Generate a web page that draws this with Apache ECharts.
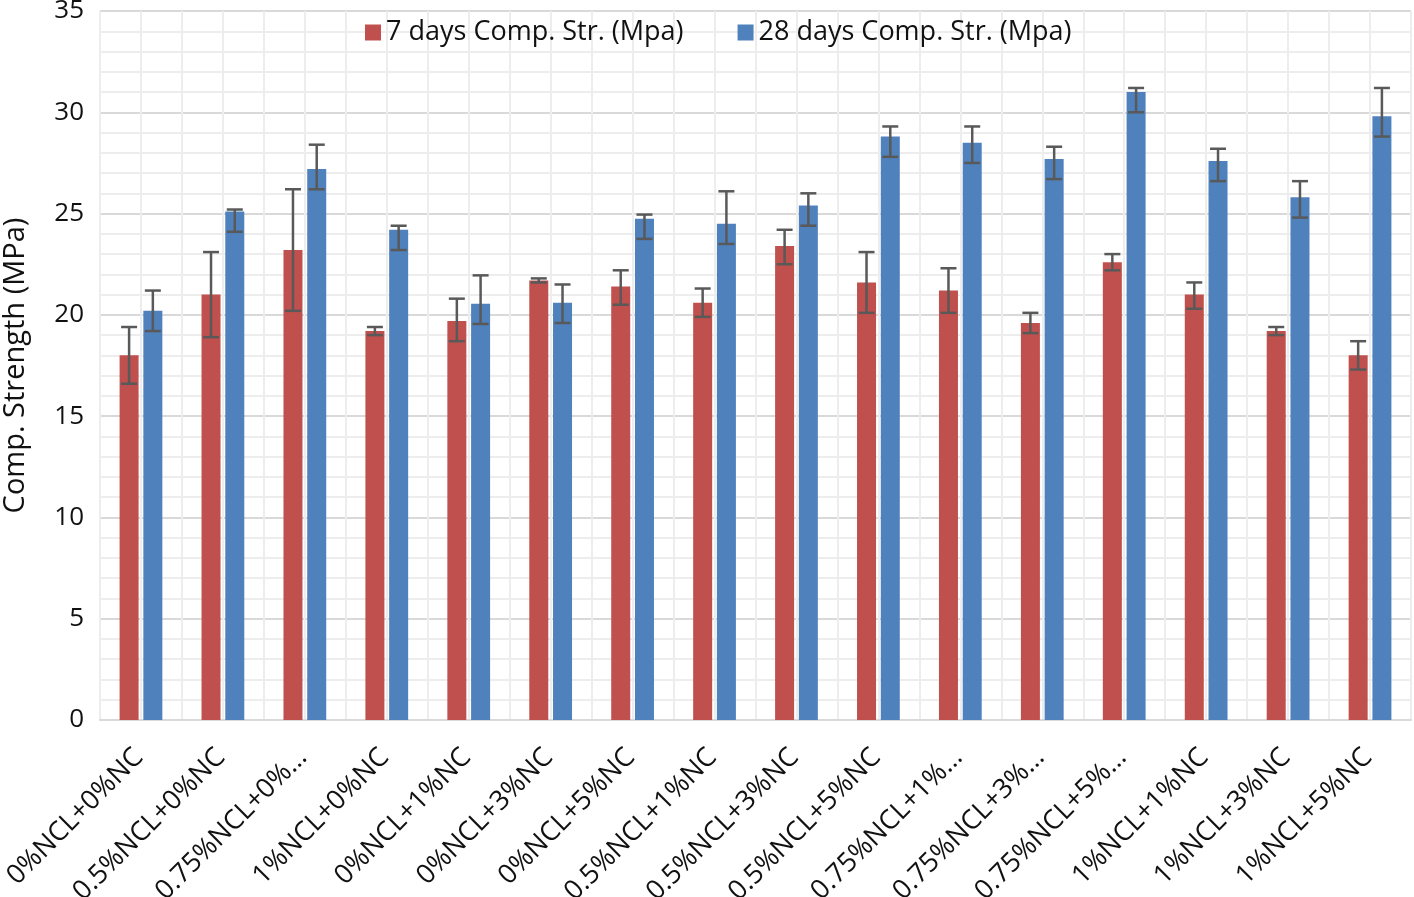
<!DOCTYPE html>
<html><head><meta charset="utf-8">
<script src="https://cdn.jsdelivr.net/npm/echarts@6/dist/echarts.min.js"></script>
<style>html,body{margin:0;padding:0;background:#fff}#c{width:1414px;height:897px}</style>
</head><body><div id="c"></div>
<script>
const categories = ["0%NCL+0%NC","0.5%NCL+0%NC","0.75%NCL+0%NC","1%NCL+0%NC","0%NCL+1%NC","0%NCL+3%NC","0%NCL+5%NC","0.5%NCL+1%NC","0.5%NCL+3%NC","0.5%NCL+5%NC","0.75%NCL+1%NC","0.75%NCL+3%NC","0.75%NCL+5%NC","1%NCL+1%NC","1%NCL+3%NC","1%NCL+5%NC"];
const seriesNames = ["7 days Comp. Str. (Mpa)","28 days Comp. Str. (Mpa)"];
const str7 = [18.0,21.0,23.2,19.2,19.7,21.7,21.4,20.6,23.4,21.6,21.2,19.6,22.6,21.0,19.2,18.0];
const err7Low = [16.6,18.9,20.2,19.0,18.7,21.6,20.5,19.9,22.5,20.1,20.1,19.1,22.2,20.3,19.0,17.3];
const err7High = [19.4,23.1,26.2,19.4,20.8,21.8,22.2,21.3,24.2,23.1,22.3,20.1,23.0,21.6,19.4,18.7];
const str28 = [20.2,25.1,27.2,24.2,20.55,20.6,24.75,24.5,25.4,28.8,28.5,27.7,31.0,27.6,25.8,29.8];
const err28Low = [19.2,24.1,26.2,23.2,19.55,19.6,23.75,23.5,24.4,27.8,27.5,26.7,30.0,26.6,24.8,28.8];
const err28High = [21.2,25.2,28.4,24.4,21.95,21.5,24.95,26.1,26.0,29.3,29.3,28.3,31.2,28.2,26.6,31.2];

const colors = ["#C0504D","#4F81BD"];
const FONT = "Open Sans";
const BAR_W = 19, BAR_GAP = 0.25;
const OFFSET = (BAR_W + BAR_W*BAR_GAP)/2;

function errData(low, high){ return categories.map((c,i)=>[i, low[i], high[i]]); }
function errRender(sign){
  return function(params, api){
    const x = api.value(0);
    const lo = api.coord([x, api.value(1)]);
    const hi = api.coord([x, api.value(2)]);
    const cx = lo[0] + sign*OFFSET;
    const cap = 8;
    const st = {stroke:"#595959", lineWidth:2.5};
    return {type:"group", children:[
      {type:"line", shape:{x1:cx,y1:lo[1],x2:cx,y2:hi[1]}, style:st},
      {type:"line", shape:{x1:cx-cap,y1:lo[1],x2:cx+cap,y2:lo[1]}, style:st},
      {type:"line", shape:{x1:cx-cap,y1:hi[1],x2:cx+cap,y2:hi[1]}, style:st}
    ]};
  };
}

const chart = echarts.init(document.getElementById("c"));
chart.setOption({
  animation:false,
  textStyle:{fontFamily:FONT},
  legend:{
    data:seriesNames, top:14, left:360, itemWidth:16, itemHeight:16, itemGap:54,
    textStyle:{fontFamily:FONT, fontSize:27, color:"#111"}, icon:"rect"
  },
  grid:{left:100, right:3, top:11, bottom:177, containLabel:false, outerBoundsMode:"none"},
  xAxis:[{
    type:"category", data:categories,
    axisLine:{lineStyle:{color:"#d9d9d9", width:2}},
    axisTick:{show:false},
    splitLine:{show:false},
    axisLabel:{rotate:45, fontSize:27, color:"#111", fontFamily:FONT, margin:31, interval:0,
      padding:[0,3,0,0],
      formatter:v => v.length>12 ? v.slice(0,11)+"…" : v}
  },{
    type:"value", min:0, max:16, interval:0.5, show:true,
    axisLine:{show:false}, axisTick:{show:false}, axisLabel:{show:false},
    splitLine:{show:true, lineStyle:{color:"#ededed", width:2}}
  }],
  yAxis:{
    type:"value", min:0, max:35, interval:5,
    name:"Comp. Strength (MPa)", nameLocation:"middle", nameGap:70, nameRotate:90,
    nameTextStyle:{fontSize:29, color:"#111", fontFamily:FONT},
    axisLine:{show:false}, axisTick:{show:false},
    axisLabel:{fontSize:26, color:"#111", margin:16, fontFamily:FONT},
    splitLine:{lineStyle:{color:"#d9d9d9", width:2}},
    minorTick:{show:false, splitNumber:5},
    minorSplitLine:{show:true, lineStyle:{color:"#ededed", width:2}}
  },
  series:[
    {name:seriesNames[0], type:"bar", data:str7, barWidth:BAR_W, barGap:(BAR_GAP*100)+"%",
      itemStyle:{color:colors[0]}, z:3},
    {name:seriesNames[1], type:"bar", data:str28, barWidth:BAR_W,
      itemStyle:{color:colors[1]}, z:3},
    {type:"custom", renderItem:errRender(-1), data:errData(err7Low, err7High), z:5,
      encode:{x:0, y:[1,2]}},
    {type:"custom", renderItem:errRender(1), data:errData(err28Low, err28High), z:5,
      encode:{x:0, y:[1,2]}}
  ]
});
</script></body></html>
